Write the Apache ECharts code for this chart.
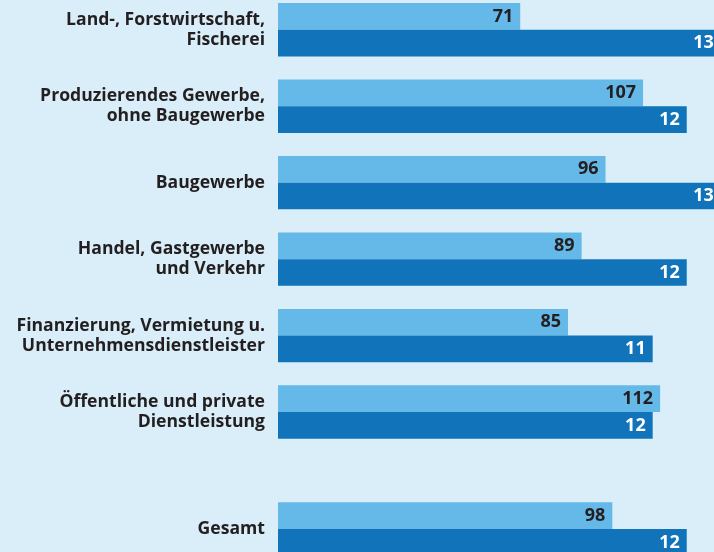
<!DOCTYPE html>
<html>
<head>
<meta charset="utf-8">
<script src="https://cdn.jsdelivr.net/npm/echarts@6/dist/echarts.min.js"></script>
<style>
  html, body { margin: 0; padding: 0; background: #d9eef9; overflow: hidden; }
  /* the drawing is a crop: the chart runs a little past the top and bottom edges */
  #chart { position: absolute; left: 0; top: -20px; width: 714px; height: 600px; }
</style>
</head>
<body>
<div id="chart"></div>
<script>
// Branchen (die letzte Zeile "Gesamt" steht etwas abgesetzt)
const categories = [
  'Land-, Forstwirtschaft,\nFischerei',
  'Produzierendes Gewerbe,\nohne Baugewerbe',
  'Baugewerbe',
  'Handel, Gastgewerbe\nund Verkehr',
  'Finanzierung, Vermietung u.\nUnternehmensdienstleister',
  'Öffentliche und private\nDienstleistung',
  'Gesamt'
]
// helle Balken
const lightValues = [71, 107, 96, 89, 85, 112, 98]
// dunkle Balken: Länge laut Grafik und gedruckte Beschriftung
const darkValues = [13, 12, 13, 12, 11, 11, 12]
const darkLabels = ['13', '12', '13', '12', '11', '12', '12']

const lightMax = 127.8
const darkMax = 12.8

const textColor = '#231f20'
const font = '"Open Sans", "Noto Sans", sans-serif'

const chart = echarts.init(document.getElementById('chart'))

function xAxis(gridIndex, max) {
  return { type: 'value', gridIndex, min: 0, max, show: false }
}

function yAxis(gridIndex, data) {
  return {
    type: 'category',
    gridIndex,
    data,
    inverse: true,
    axisLine: { show: false },
    axisTick: { show: false },
    axisLabel: {
      color: textColor,
      fontFamily: font,
      fontWeight: 'bold',
      fontSize: 17.6,
      lineHeight: 20,
      margin: 13,
      align: 'right',
    },
  }
}

function lightSeries(axisIdx, data) {
  return {
    type: 'bar',
    xAxisIndex: axisIdx,
    yAxisIndex: axisIdx / 2,
    data,
    barWidth: 26.7,
    barGap: '0%',
    itemStyle: { color: '#65b9e8' },
    label: {
      show: true,
      position: 'insideRight',
      distance: 7,
      color: textColor,
      fontFamily: font,
      fontWeight: 700,
      fontSize: 18,
    },
  }
}

function darkSeries(axisIdx, data, offset) {
  return {
    type: 'bar',
    xAxisIndex: axisIdx + 1,
    yAxisIndex: axisIdx / 2,
    data,
    barWidth: 26.7,
    barGap: '0%',
    clip: false,
    itemStyle: { color: '#1174bb' },
    label: {
      show: true,
      position: 'insideRight',
      distance: 7,
      color: '#ffffff',
      fontFamily: font,
      fontWeight: 700,
      fontSize: 18,
      formatter: (p) => darkLabels[p.dataIndex + offset],
    },
  }
}

chart.setOption({
  backgroundColor: '#d9eef9',
  animation: false,
  grid: [
    { left: 278, right: 0, top: 11.5, height: 458.8 },
    { left: 278, right: 0, top: 510.8, height: 76.5 },
  ],
  xAxis: [
    xAxis(0, lightMax),
    xAxis(0, darkMax),
    xAxis(1, lightMax),
    xAxis(1, darkMax),
  ],
  yAxis: [
    yAxis(0, categories.slice(0, 6)),
    yAxis(1, categories.slice(6)),
  ],
  series: [
    lightSeries(0, lightValues.slice(0, 6)),
    darkSeries(0, darkValues.slice(0, 6), 0),
    lightSeries(2, lightValues.slice(6)),
    darkSeries(2, darkValues.slice(6), 6),
  ],
})
</script>
</body>
</html>
